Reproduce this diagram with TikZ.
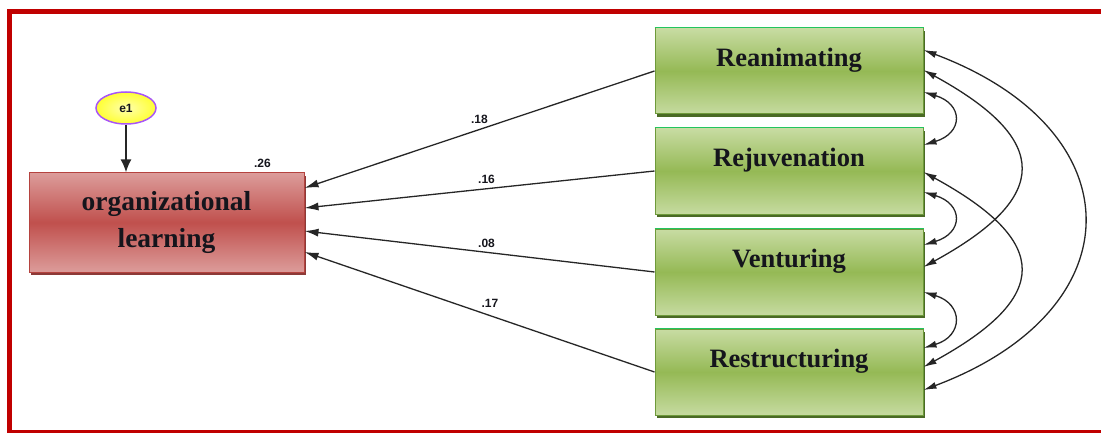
\documentclass[tikz,border=0pt]{standalone}
\usepackage{fontspec}
\setmainfont{Liberation Serif}
\setsansfont{Liberation Sans}
\usetikzlibrary{arrows.meta,shadows,shapes.geometric,calc}
\definecolor{framered}{HTML}{C00000}
\definecolor{rtop}{HTML}{DC9C9A}
\definecolor{rmid}{HTML}{C0504D}
\definecolor{rborder}{HTML}{B5433F}
\definecolor{rshadow}{HTML}{8C3A38}
\definecolor{gtop}{HTML}{C8DCA3}
\definecolor{gmid}{HTML}{95B955}
\definecolor{gbot}{HTML}{C6DBA0}
\definecolor{gborder}{HTML}{6E9A3A}
\definecolor{gshadow}{HTML}{4A6A25}
\definecolor{gedge}{HTML}{22C55E}
\definecolor{txt}{HTML}{15151C}
\definecolor{eyellow}{HTML}{FFFF33}
\definecolor{epurple}{HTML}{A855F7}
\begin{document}
\begin{tikzpicture}[x=1pt,y=-1pt,
  gbox/.style={draw=gborder, line width=1pt, minimum width=268pt, minimum height=86pt,
    inner sep=0pt, top color=gtop, bottom color=gbot, middle color=gmid,
    general shadow={fill=gshadow, shadow xshift=2pt, shadow yshift=-3pt}},
  gtext/.style={font=\bfseries\fontsize{26.5}{30}\selectfont, text=txt, anchor=base, inner sep=0pt},
  rbox/.style={draw=rborder, line width=1pt, minimum width=275pt, minimum height=99pt,
    inner sep=0pt, top color=rtop, bottom color=rtop, middle color=rmid,
    general shadow={fill=rshadow, shadow xshift=2pt, shadow yshift=-3pt},
    font=\bfseries\fontsize{27.5}{37}\selectfont, text=txt, align=center},
  lbl/.style={font=\sffamily\bfseries\fontsize{12}{12}\selectfont, text=txt, inner sep=1pt},
  pth/.style={-{Latex[length=14pt,width=8pt]}, line width=1.3pt, draw=black!85},
  cov/.style={{Latex[length=13pt,width=7pt]}-{Latex[length=13pt,width=7pt]}, line width=1.3pt, draw=black!85},
  err/.style={ellipse, draw=epurple, line width=1.5pt, minimum width=60pt, minimum height=32pt,
    inner sep=0pt, inner color=white!60!eyellow, outer color=eyellow,
    font=\sffamily\bfseries\fontsize{12}{12}\selectfont, text=txt}
]
\useasboundingbox (0,0) rectangle (1101,433);
% frame
\draw[framered, line width=5pt] (1115,11.5) -- (9.5,11.5) -- (9.5,432.5) -- (1115,432.5);

% nodes
\node[rbox] (org) at (166.5,222.5) {organizational\\learning};
\node[err] (e1) at (126,108) {e1};
\node[lbl] (r2lab) at ([xshift=-42pt,yshift=9pt]org.north east) {.26};

\node[gbox] (r1) at (789,71) {};
\node[gbox] (r2) at (789,171) {};
\node[gbox] (r3) at (789,272) {};
\node[gbox] (r4) at (789,372) {};
\foreach \n in {r1,r2,r3,r4}{
  \draw[gedge, line width=1.2pt] (\n.north west) -- (\n.north east);
}
\node[gtext] (t1) at ([yshift=-39pt]r1.north) {Reanimating};
\node[gtext] (t2) at ([yshift=-39pt]r2.north) {Rejuvenation};
\node[gtext] (t3) at ([yshift=-39pt]r3.north) {Venturing};
\node[gtext] (t4) at ([yshift=-39pt]r4.north) {Restructuring};

% error arrow
\draw[-{Latex[length=13pt,width=11pt]}, line width=2pt, draw=black!85] (e1.south) -- (e1.south |- org.north);

% regression paths
\draw[pth] (r1.west) -- node[lbl, pos=0.5, above=4pt] {.18} ([yshift=34.5pt]org.east);
\draw[pth] (r2.west) -- node[lbl, pos=0.48, above=3pt] {.16} ([yshift=14.5pt]org.east);
\draw[pth] (r3.west) -- node[lbl, pos=0.48, above=3pt] {.08} ([yshift=-8.5pt]org.east);
\draw[pth] (r4.west) -- node[lbl, pos=0.47, above=6pt] {.17} ([yshift=-29.5pt]org.east);

% covariances
\draw[cov] ([yshift=-21pt]r1.east) .. controls +(40,12) and +(40,-12) .. ([yshift=26pt]r2.east);
\draw[cov] ([yshift=-21pt]r2.east) .. controls +(40,12) and +(40,-12) .. ([yshift=27pt]r3.east);
\draw[cov] ([yshift=-20pt]r3.east) .. controls +(40,12) and +(40,-12) .. ([yshift=24pt]r4.east);
\draw[cov] ([yshift=1pt]r1.east) .. controls +(128,70) and +(128,-70) .. ([yshift=5pt]r3.east);
\draw[cov] ([yshift=-1pt]r2.east) .. controls +(128,70) and +(128,-70) .. ([yshift=5pt]r4.east);
\draw[cov] ([yshift=21pt]r1.east) .. controls +(213,80) and +(213,-80) .. ([yshift=-18pt]r4.east);
\end{tikzpicture}
\end{document}
